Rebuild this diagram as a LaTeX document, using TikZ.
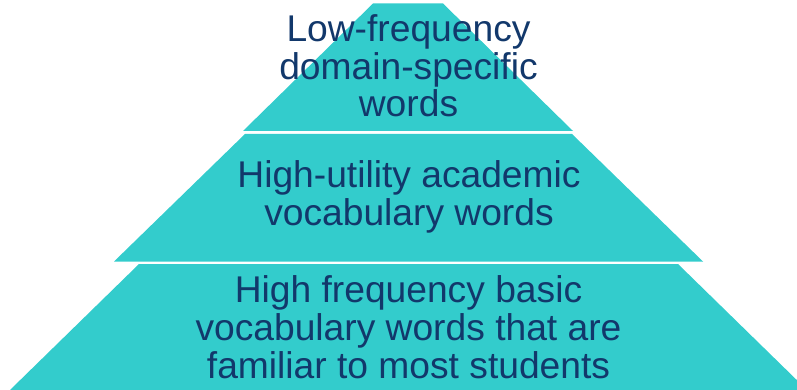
\documentclass[tikz,border=0pt]{standalone}
\usepackage{fontspec}
\setmainfont{Liberation Sans}
\definecolor{tier}{HTML}{33CCCC}
\definecolor{ink}{HTML}{12386B}
\begin{document}
\begin{tikzpicture}[x=1pt,y=-1pt,
  tierfill/.style={fill=tier,draw=none},
  tiertext/.style={text=ink,align=center,inner sep=0pt,font=\fontsize{37.2}{37.8}\selectfont}]
\useasboundingbox (0,0) rectangle (797,390);
\clip (0,0) rectangle (797,390);
\fill[tierfill] (373,3.5) -- (443,3.5) -- (573,131) -- (243,131) -- cycle;
\fill[tierfill] (245,134) -- (572,134) -- (703,261.5) -- (114,261.5) -- cycle;
\fill[tierfill] (139,264) -- (678,264) -- (807,390) -- (10,390) -- cycle;
\node[tiertext,anchor=base] (t1) at (408.5,117) {Low-frequency\\domain-specific\\words};
\node[tiertext,anchor=base] (t2) at (409,225) {High-utility academic\\vocabulary words};
\node[tiertext,anchor=base] (t3) at (408.5,378) {High frequency basic\\vocabulary words that are\\familiar to most students};
\end{tikzpicture}
\end{document}
